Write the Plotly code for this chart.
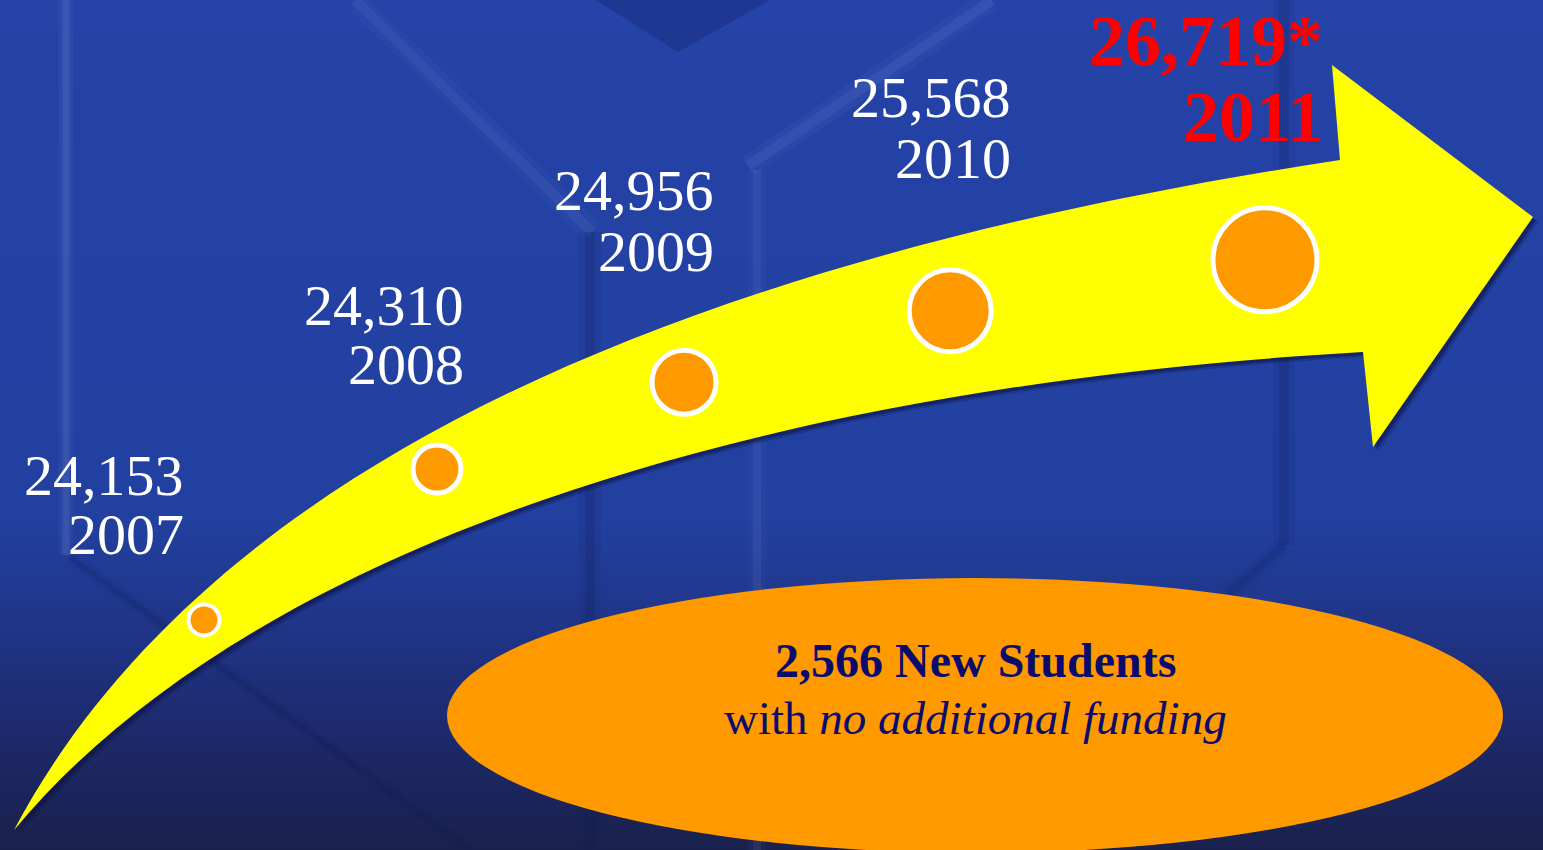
import plotly.graph_objects as go
import numpy as np

# ---------------- data ----------------
years = [2007, 2008, 2009, 2010, 2011]
students = [24153, 24310, 24956, 25568, 26719]
projected = [False, False, False, False, True]
new_students = students[-1] - students[0]   # 2,566
subtitle_plain = "with "
subtitle_italic = "no additional funding"

# ---------------- layout / style (not data) ----------------
W, H = 1543, 850
marker_p = [0.1433, 0.319, 0.5053, 0.706, 0.9434]  # progress along the arrow body
marker_s = [0.40, 0.355, 0.46, 0.457, 0.47]        # across the band (0 = top edge)
marker_size = [31, 48, 64, 82, 104]
marker_line = [4, 5, 5, 5, 5]
label_x = [186, 466, 716, 1013, 1325]           # right edge of labels
label_y = [475, 305, 190, 97, 41]               # centre of first label line
year_gap = [59, 59, 61, 61, 76]

ORANGE = "#FF9900"
NAVY = "#0B0B6E"
SERIF = "Liberation Serif, Times New Roman, serif"

UP = [(14, 830), (200, 480), (650, 265), (1340, 160)]
LO = [(14, 830), (230, 570), (700, 390), (1363, 352)]
HEAD = [(1332, 65), (1533, 217), (1373, 447)]


def bez(P, t):
    t = np.asarray(t, dtype=float)
    a, b, c, d = (1 - t) ** 3, 3 * (1 - t) ** 2 * t, 3 * (1 - t) * t ** 2, t ** 3
    x = a * P[0][0] + b * P[1][0] + c * P[2][0] + d * P[3][0]
    y = a * P[0][1] + b * P[1][1] + c * P[2][1] + d * P[3][1]
    return x, y


def arrow_path(dx=0, dy=0):
    p = lambda pt: f"{pt[0] + dx},{pt[1] + dy}"
    return (f"M {p(UP[0])} C {p(UP[1])} {p(UP[2])} {p(UP[3])} "
            f"L {p(HEAD[0])} L {p(HEAD[1])} L {p(HEAD[2])} L {p(LO[3])} "
            f"C {p(LO[2])} {p(LO[1])} {p(LO[0])} Z")


shapes = []

# background gradient (bands)
stops = [(0, (37, 67, 168)), (520, (34, 64, 159)), (650, (31, 50, 130)),
         (760, (28, 39, 99)), (850, (26, 33, 77))]


def bg_col(y):
    for (y0, c0), (y1, c1) in zip(stops[:-1], stops[1:]):
        if y0 <= y <= y1:
            f = (y - y0) / (y1 - y0)
            return "rgb(%d,%d,%d)" % tuple(round(c0[i] + f * (c1[i] - c0[i])) for i in range(3))
    return "rgb(%d,%d,%d)" % stops[-1][1]


step = 4
for y in range(0, H, step):
    shapes.append(dict(type="rect", xref="x", yref="y", x0=0, x1=W, y0=y, y1=y + step + 1,
                       fillcolor=bg_col(y + step / 2), line_width=0, layer="below"))


# faint "M" logo in the background
def seg(x0, y0, x1, y1, col, w):
    shapes.append(dict(type="line", xref="x", yref="y", x0=x0, y0=y0, x1=x1, y1=y1,
                       line=dict(color=col, width=w), layer="below"))


def glow(x0, y0, x1, y1, rgb, a, w):
    seg(x0, y0, x1, y1, f"rgba({rgb},{a * 0.45})", w * 2.2)
    seg(x0, y0, x1, y1, f"rgba({rgb},{a})", w)


LT = "140,160,230"
DK = "15,25,85"
shapes.append(dict(type="path", xref="x", yref="y",
                   path="M 596,0 L 678,52 L 770,0 Z",
                   fillcolor="rgba(15,25,90,0.28)", line_width=0, layer="below"))
glow(66, 0, 66, 555, LT, 0.16, 7)
glow(70, 557, 470, 850, DK, 0.18, 5)
glow(355, 0, 592, 232, LT, 0.10, 10)
glow(590, 232, 590, 850, DK, 0.18, 10)
glow(748, 166, 992, 0, LT, 0.12, 10)
glow(757, 170, 757, 850, LT, 0.10, 8)
glow(1284, 0, 1284, 545, DK, 0.18, 10)
glow(1284, 545, 1228, 595, DK, 0.15, 8)

# arrow shadow + arrow
shapes.append(dict(type="path", xref="x", yref="y", path=arrow_path(5, 5),
                   fillcolor="rgba(10,15,60,0.22)", line_width=0, layer="below"))
shapes.append(dict(type="path", xref="x", yref="y", path=arrow_path(3, 3),
                   fillcolor="rgba(10,15,60,0.45)", line_width=0, layer="below"))
shapes.append(dict(type="path", xref="x", yref="y", path=arrow_path(),
                   fillcolor="#FFFF00", line_width=0, layer="below"))

# orange ellipse
shapes.append(dict(type="circle", xref="x", yref="y", x0=447, x1=1503, y0=578, y1=853,
                   fillcolor=ORANGE, line_width=0, layer="below"))

# ---------------- marks ----------------
tt = np.linspace(0, 1, 2001)
uxs, uys = bez(UP, tt)
lxs, lys = bez(LO, tt)
x_start, x_end = UP[0][0], UP[3][0]
cx = np.array([x_start + p * (x_end - x_start) for p in marker_p])
s = np.array(marker_s)
cy = (1 - s) * np.interp(cx, uxs, uys) + s * np.interp(cx, lxs, lys)

fig = go.Figure()
fig.add_trace(go.Scatter(
    x=cx, y=cy, mode="markers",
    marker=dict(size=marker_size, color=ORANGE, opacity=1,
                line=dict(color="white", width=marker_line)),
    customdata=np.array([years, students]).T,
    hovertemplate="%{customdata[0]}: %{customdata[1]:,}<extra></extra>",
    showlegend=False))

annotations = []
for i, (yr, v) in enumerate(zip(years, students)):
    if projected[i]:
        font = dict(family=SERIF, size=72, color="#FF0000")
        txt_v = f"<b>{v:,}*</b>"
        txt_y = f"<b>{yr}</b>"
    else:
        font = dict(family=SERIF, size=58, color="white")
        txt_v = f"{v:,}"
        txt_y = f"{yr}"
    annotations.append(dict(x=label_x[i], y=label_y[i], xref="x", yref="y", text=txt_v,
                            showarrow=False, xanchor="right", yanchor="middle", font=font))
    annotations.append(dict(x=label_x[i], y=label_y[i] + year_gap[i], xref="x", yref="y",
                            text=txt_y, showarrow=False, xanchor="right", yanchor="middle",
                            font=font))

annotations.append(dict(x=975, y=660, xref="x", yref="y",
                        text=f"<b>{new_students:,} New Students</b>", showarrow=False,
                        xanchor="center", yanchor="middle",
                        font=dict(family=SERIF, size=48, color=NAVY)))
annotations.append(dict(x=975, y=718, xref="x", yref="y",
                        text=f"{subtitle_plain}<i>{subtitle_italic}</i>", showarrow=False,
                        xanchor="center", yanchor="middle",
                        font=dict(family=SERIF, size=47, color=NAVY)))

fig.update_layout(
    width=W, height=H, margin=dict(l=0, r=0, t=0, b=0),
    paper_bgcolor="rgb(26,33,77)", plot_bgcolor="rgba(0,0,0,0)",
    xaxis=dict(range=[0, W], visible=False, fixedrange=True),
    yaxis=dict(range=[H, 0], visible=False, fixedrange=True),
    shapes=shapes, annotations=annotations, showlegend=False,
)

fig.write_html("out.html")
